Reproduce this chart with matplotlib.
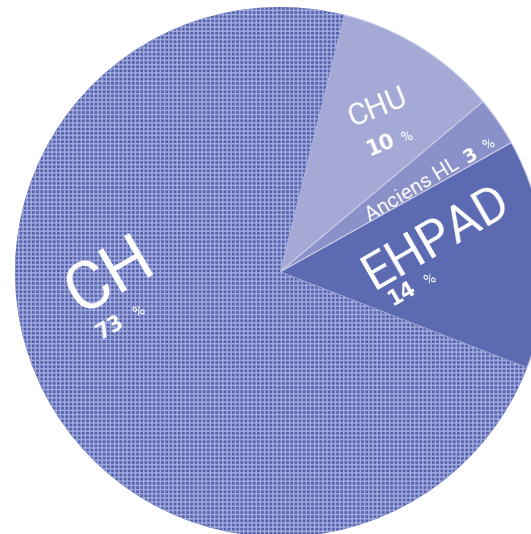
import matplotlib
matplotlib.use('Agg')
import matplotlib.pyplot as plt

labels = ['CHU', 'Anciens HL', 'EHPAD', 'CH']
values = [10, 3, 14, 73]
colors = ['#a4a9d5', '#8a90c8', '#5b6ab1', '#5564b0']

plt.rcParams['hatch.linewidth'] = 1.0

fig = plt.figure(figsize=(5.31, 5.34), dpi=100)
ax = fig.add_axes([0, 0, 1, 1])

wedges, _ = ax.pie(values, colors=colors, startangle=76, counterclock=False,
                   radius=1.0, wedgeprops=dict(linewidth=0.8, edgecolor='#c9cce8'))
# CH gets the dotted look: dark face with light grid hatch
ch = wedges[3]
ch.set_hatch('++++')
ch.set_edgecolor('#a2a9dc')
ch.set_linewidth(0)

ax.set_xlim(-280 / 265, (531 - 280) / 265)
ax.set_ylim(-(534 - 272) / 265, 272 / 265)
ax.set_aspect('auto')
ax.axis('off')

name_font = dict(family=['Roboto', 'DejaVu Sans'], weight='normal', color='white',
                 ha='center', va='center', rotation_mode='anchor')
num_font = dict(family=['DejaVu Sans'], weight='bold', color='white',
                ha='center', va='center', rotation_mode='anchor')

# CH
ax.text(-0.64, -0.02, 'CH', fontsize=48, rotation=30, **name_font)
ax.text(-0.64, -0.21, '73', fontsize=15, rotation=30, **num_font)
ax.text(-0.53, -0.15, '%', fontsize=11, rotation=30, **name_font)

# CHU
ax.text(0.37, 0.62, 'CHU', fontsize=22, rotation=22, **name_font)
ax.text(0.38, 0.48, '10', fontsize=15, rotation=22, **num_font)
ax.text(0.48, 0.51, '%', fontsize=11, rotation=22, **name_font)

# Anciens HL
ax.text(0.50, 0.31, 'Anciens HL', fontsize=15, rotation=31, **name_font)
ax.text(0.72, 0.44, '3', fontsize=14, rotation=31, **num_font)
ax.text(0.79, 0.48, '%', fontsize=11, rotation=31, **name_font)

# EHPAD
ax.text(0.59, 0.13, 'EHPAD', fontsize=36, rotation=30, **name_font)
ax.text(0.46, -0.08, '14', fontsize=15, rotation=30, **num_font)
ax.text(0.565, -0.03, '%', fontsize=11, rotation=30, **name_font)

fig.savefig('out.png', dpi=100)
